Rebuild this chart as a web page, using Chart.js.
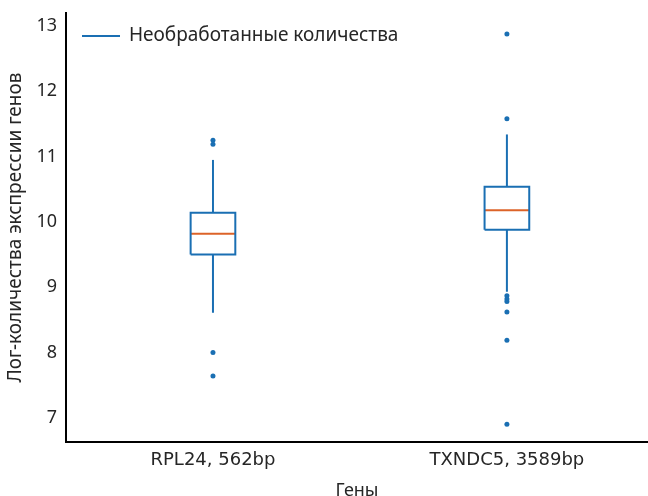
<!DOCTYPE html>
<html>
<head>
<meta charset="utf-8">
<script src="https://cdn.jsdelivr.net/npm/chart.js@4/dist/chart.umd.min.js"></script>
<style>
  html, body { margin: 0; padding: 0; background: #fff; }
  #wrap { width: 648px; height: 496px; }
</style>
</head>
<body>
<div id="wrap"><canvas id="boxChart" width="648" height="496"></canvas></div>
<script>
// Данные
const genes = ['RPL24, 562bp', 'TXNDC5, 3589bp'];
const q1 = [9.50, 9.88];
const medians = [9.82, 10.18];
const q3 = [10.14, 10.54];
const whiskerLow = [8.61, 8.93];
const whiskerHigh = [10.95, 11.34];
const outliers = [
    [11.25, 11.19, 8.00, 7.64],
    [12.88, 11.58, 8.87, 8.82, 8.78, 8.62, 8.19, 6.90]
];
const yTicks = [7, 8, 9, 10, 11, 12, 13];
const legendLabel = 'Необработанные количества';

const BLUE = '#1a6fb3';
const ORANGE = '#dc6329';
const TEXT = '#262626';
const halfBox = 0.076;

Chart.defaults.font.family = "'Noto Sans', sans-serif";
Chart.defaults.color = TEXT;

const datasets = [];
genes.forEach(function(g, i) {
    const x = i + 1;
    // коробка
    datasets.push({
        label: i === 0 ? legendLabel : '',
        data: [
            { x: x - halfBox, y: q1[i] }, { x: x + halfBox, y: q1[i] },
            { x: x + halfBox, y: q3[i] }, { x: x - halfBox, y: q3[i] },
            { x: x - halfBox, y: q1[i] }
        ],
        showLine: true, borderColor: BLUE, backgroundColor: BLUE,
        borderWidth: 2, pointRadius: 0, tension: 0
    });
    // усы
    datasets.push({
        label: '', data: [{ x: x, y: q3[i] }, { x: x, y: whiskerHigh[i] }],
        showLine: true, borderColor: BLUE, borderWidth: 2, pointRadius: 0
    });
    datasets.push({
        label: '', data: [{ x: x, y: q1[i] }, { x: x, y: whiskerLow[i] }],
        showLine: true, borderColor: BLUE, borderWidth: 2, pointRadius: 0
    });
    // медиана
    datasets.push({
        label: '', data: [{ x: x - halfBox, y: medians[i] }, { x: x + halfBox, y: medians[i] }],
        showLine: true, borderColor: ORANGE, borderWidth: 2, pointRadius: 0
    });
    // выбросы
    datasets.push({
        label: '', data: outliers[i].map(v => ({ x: x, y: v })),
        showLine: false, backgroundColor: BLUE, borderWidth: 0, pointRadius: 2.5
    });
});

// легенда внутри области графика, как в matplotlib
const innerLegend = {
    id: 'innerLegend',
    afterDraw(chart) {
        const { ctx, chartArea } = chart;
        const ds = chart.data.datasets.filter(d => d.label !== '');
        ctx.save();
        ds.forEach(function(d, i) {
            const y = chartArea.top + 23 + i * 26;
            ctx.strokeStyle = d.borderColor;
            ctx.lineWidth = 2;
            ctx.beginPath();
            ctx.moveTo(chartArea.left + 16, y);
            ctx.lineTo(chartArea.left + 54, y);
            ctx.stroke();
            ctx.fillStyle = TEXT;
            ctx.font = "19px 'Noto Sans', sans-serif";
            ctx.textBaseline = 'middle';
            ctx.fillText(d.label, chartArea.left + 63, y);
        });
        ctx.restore();
    }
};

new Chart(document.getElementById('boxChart').getContext('2d'), {
    type: 'scatter',
    data: { datasets: datasets },
    options: {
        responsive: false,
        animation: false,
        layout: { autoPadding: false, padding: { top: 13, right: 0, left: 0, bottom: 0 } },
        plugins: {
            tooltip: { enabled: false },
            legend: { display: false }
        },
        scales: {
            x: {
                type: 'linear', min: 0.5, max: 2.48,
                grid: { display: false, drawTicks: false },
                border: { display: true, color: '#000', width: 2 },
                afterBuildTicks: axis => { axis.ticks = genes.map((g, i) => ({ value: i + 1 })); },
                ticks: { callback: v => genes[v - 1], font: { family: "'DejaVu Sans', sans-serif", size: 18 }, padding: 8, maxRotation: 0 },
                title: { display: true, text: 'Гены', font: { size: 18 }, padding: { top: 0, bottom: -6 } },
                afterFit: s => { s.height = 54; s.paddingLeft = 0; s.paddingRight = 0; }
            },
            y: {
                min: 6.63, max: 13.2,
                grid: { display: false, drawTicks: false },
                border: { display: true, color: '#000', width: 2 },
                afterBuildTicks: axis => { axis.ticks = yTicks.map(v => ({ value: v })); },
                ticks: { font: { size: 18 }, padding: 9 },
                title: { display: true, text: 'Лог-количества экспрессии генов', font: { size: 19 }, padding: { top: 4 } },
                afterFit: s => { s.width = 66; s.paddingTop = 0; s.paddingBottom = 0; }
            }
        }
    },
    plugins: [innerLegend]
});
</script>
</body>
</html>
